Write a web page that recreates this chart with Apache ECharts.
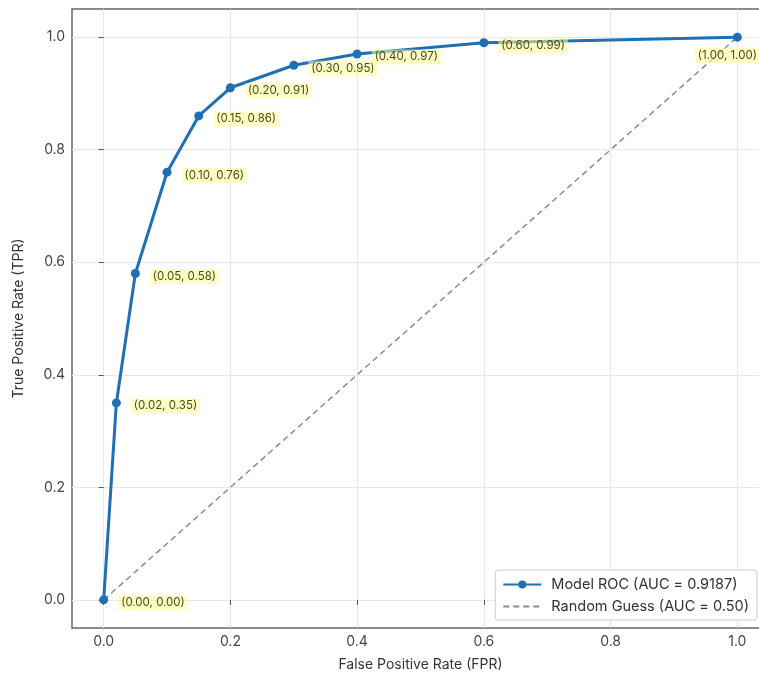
<!DOCTYPE html>
<html>
<head>
<meta charset="utf-8">
<script src="https://cdn.jsdelivr.net/npm/echarts@6/dist/echarts.min.js"></script>
<style>
html,body{margin:0;padding:0;background:#fff;}
#chart{width:759px;height:677px;}
</style>
</head>
<body>
<div id="chart"></div>
<script>
// ROC points
var fprValues = [0.00, 0.02, 0.05, 0.10, 0.15, 0.20, 0.30, 0.40, 0.60, 1.00];
var tprValues = [0.00, 0.35, 0.58, 0.76, 0.86, 0.91, 0.95, 0.97, 0.99, 1.00];
var randomLine = [[0, 0], [1, 1]];
var tickValues = [0, 0.2, 0.4, 0.6, 0.8, 1.0];
var modelName = 'Model ROC (AUC = 0.9187)';
var randomName = 'Random Guess (AUC = 0.50)';

var rocData = [];
for (var i = 0; i < fprValues.length; i++) {
	var item = { value: [fprValues[i], tprValues[i]] };
	// last label sits under the point, like in the picture
	if (i == fprValues.length - 1) {
		item.label = { position: 'bottom', distance: 6, offset: [-10, 0] };
	}
	rocData.push(item);
}

var fontFam = 'Inter, "DejaVu Sans", sans-serif';

function makeAxis(name, gap) {
	return {
		type: 'value',
		min: -0.05,
		max: 1.05,
		name: name,
		nameLocation: 'middle',
		nameGap: gap,
		nameTextStyle: { color: '#333', fontSize: 14, fontFamily: fontFam },
		axisLine: { show: false },
		axisTick: { show: true, customValues: tickValues, length: 5, lineStyle: { color: '#555' } },
		axisLabel: {
			customValues: tickValues,
			color: '#444',
			fontSize: 14,
			margin: 7,
			fontFamily: fontFam,
			formatter: function (v) { return v.toFixed(1); }
		},
		splitLine: { show: true, lineStyle: { color: '#e8e8e8', width: 1 } }
	};
}

var myChart = echarts.init(document.getElementById('chart'));
var option = {
	backgroundColor: '#fff',
	animation: false,
	grid: {
		left: 72,
		right: -10,
		top: 9,
		bottom: 49,
		outerBoundsMode: 'none',
		show: true,
		borderColor: '#666',
		borderWidth: 1.5
	},
	xAxis: makeAxis('False Positive Rate (FPR)', 30),
	yAxis: makeAxis('True Positive Rate (TPR)', 46),
	legend: {
		right: 2,
		bottom: 57,
		orient: 'vertical',
		backgroundColor: '#fff',
		borderColor: '#ccc',
		borderWidth: 1,
		borderRadius: 3,
		padding: [7, 8, 6, 7],
		itemGap: 7,
		itemWidth: 38,
		itemHeight: 10,
		textStyle: { color: '#333', fontSize: 14.5, fontFamily: fontFam, padding: [0, 0, 0, 5] },
		data: [modelName, { name: randomName, itemStyle: { opacity: 0 } }]
	},
	series: [
		{
			name: randomName,
			type: 'line',
			data: randomLine,
			symbol: 'none',
			lineStyle: { color: '#8c8c8c', width: 1.5, type: [6, 4] },
			itemStyle: { color: '#8c8c8c' },
			z: 1
		},
		{
			name: modelName,
			type: 'line',
			data: rocData,
			symbol: 'circle',
			symbolSize: 9,
			lineStyle: { color: '#1f6fb4', width: 3 },
			itemStyle: { color: '#1f6fb4' },
			label: {
				show: true,
				position: 'right',
				distance: 10,
				offset: [0, 3],
				color: '#4a4a20',
				fontSize: 11.5,
				fontFamily: fontFam,
				backgroundColor: 'rgba(255,255,150,0.55)',
				padding: [2, 3, 1, 3],
				formatter: function (p) {
					return '(' + p.value[0].toFixed(2) + ', ' + p.value[1].toFixed(2) + ')';
				}
			},
			z: 3
		}
	]
};
myChart.setOption(option);
</script>
</body>
</html>
